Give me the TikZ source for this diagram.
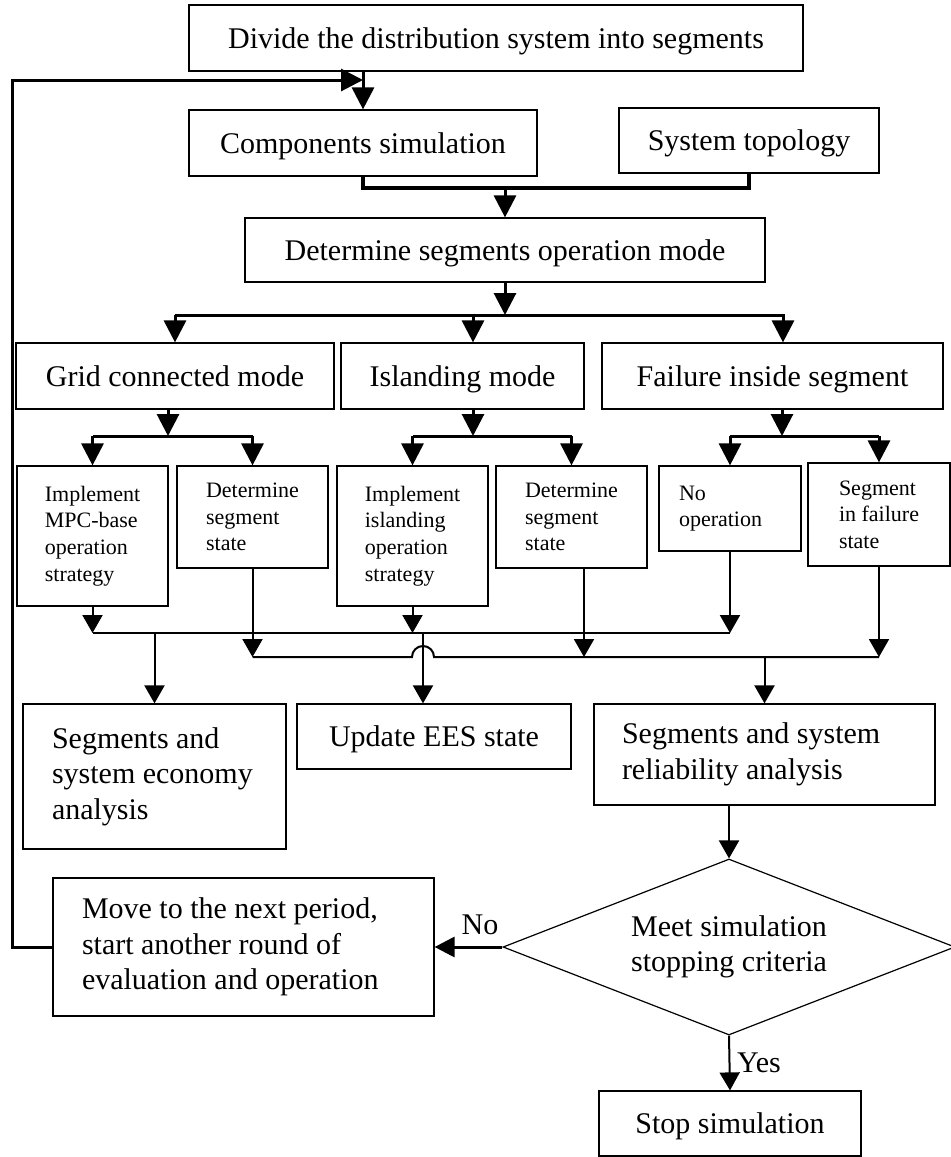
\documentclass[tikz,border=0pt]{standalone}
\usepackage{fontspec}
\setmainfont{Liberation Serif}
\usetikzlibrary{arrows.meta,shapes.geometric}

\tikzset{
	box/.style={draw, line width=0.6pt, inner sep=0pt},
	onebox/.style={box, text height=12pt, text depth=2pt},
	smallbox/.style={box, align=left, font=\fontsize{11}{13.3}\selectfont},
	boxsize/.style 2 args={minimum width=#1*0.5pt, minimum height=#2*0.5pt},
	bus/.style={line width=1.5pt},
	line/.style={line width=1pt, >={Triangle[width=10pt,length=9pt]}},
}

\begin{document}
\begin{tikzpicture}[x=0.5pt, y=-0.5pt, font=\fontsize{15}{17.75}\selectfont, >={Triangle[width=11pt,length=11pt]}]
					% levels of the busses
					
					\def\busT{315}
					\def\busS{436}
					\def\busA{633}
					\def\busB{657}
					
					\useasboundingbox (0,0) rectangle (951,1157);
					
					% boxes
					\node[onebox, boxsize={614}{66}] (divide) at (496,38) {Divide the distribution system into segments};
					\node[onebox, boxsize={348}{66}] (comp) at (363,143) {Components simulation};
					\node[onebox, boxsize={260}{65}] (topo) at (749,140.5) {System topology};
					\node[onebox, boxsize={520}{64}] (mode) at (505,250) {Determine segments operation mode};
					
					\node[onebox, boxsize={318}{66}] (grid) at (175,376) {Grid connected mode};
					\node[onebox, boxsize={243}{66}] (island) at (462.5,376) {Islanding mode};
					\node[onebox, boxsize={341}{66}] (fail) at (772.5,376) {Failure inside segment};
					
					\node[smallbox, boxsize={151}{140}] (mpc) at (92.5,536) {Implement\\MPC-base\\operation\\strategy};
					\node[smallbox, boxsize={151}{102}] (dseg1) at (252.5,517) {Determine\\segment\\state};
					\node[smallbox, boxsize={151}{140}] (impl) at (412.5,536) {Implement\\islanding\\operation\\strategy};
					\node[smallbox, boxsize={151}{102}] (dseg2) at (571.5,517) {Determine\\segment\\state};
					\node[smallbox, boxsize={142}{85}, text width=51pt] (noop) at (730,508.5) {No\\operation};
					\node[smallbox, boxsize={142}{103}] (sfail) at (879,514.5) {Segment\\in failure\\state};
					
					\node[box, boxsize={263}{145}, align=flush left, text width=102.5pt] (econ) at (154.5,776.5) {Segments and\\system economy\\analysis};
					\node[onebox, boxsize={274}{65}] (ees) at (434,736.5) {Update EES state};
					\node[box, boxsize={341}{101}, align=flush left, text width=142.5pt] (rel) at (764.5,754.5) {Segments and system\\reliability analysis};
					
					\node[box, diamond, aspect=2.57, boxsize={452}{176}, align=center] (crit) at (729,947) {Meet simulation\\stopping criteria};
					\node[box, boxsize={381}{138}, align=flush left, text width=161.5pt] (move) at (243.5,947) {Move to the next period,\\start another round of\\evaluation and operation};
					\node[onebox, boxsize={262}{65}] (stop) at (730,1123.5) {Stop simulation};
					
					% tap points
					\coordinate (fb) at (12,80);
					\coordinate (join) at (505,188);
					\coordinate (ta) at (175,\busT);
					\coordinate (tb) at (473,\busT);
					\coordinate (tc) at (783,\busT);
					\coordinate (tapgrid) at (168,\busS);
					\coordinate (tapisland) at (473,\busS);
					\coordinate (tapfail) at (782,\busS);
					\coordinate (tapdseg) at (584,\busB);
					\coordinate (hop) at (423,\busB);
					
					% upper part
					\draw[->, bus] (comp.north |- divide.south) -- (comp.north);
					\draw[->, bus] (move.west) -| (fb) -- (comp.north |- fb);
					\draw[line width=2pt] (comp.south) |- (join) -| (topo.south);
					\draw[->, bus] (join) -- (mode.north);
					\draw[->, bus] (mode.south) -- (mode.south |- ta);
					\draw[bus] (ta) -- ([xshift=1pt]tc);
					\foreach \t/\n in {ta/grid, tb/island, tc/fail}
						\draw[->, bus] (\t) -- (\t |- \n.north);
					
					\foreach \s/\a/\b in {grid/mpc/dseg1, island/impl/dseg2, fail/noop/sfail}{
						\draw[->, bus] (tap\s |- \s.south) -- (tap\s);
						\draw[bus] (\a.north |- tap\s) -- (\b.north |- tap\s);
						\draw[->, bus] (\a.north |- tap\s) -- (\a.north);
						\draw[->, bus] (\b.north |- tap\s) -- (\b.north);
					}
					
					% lower busses
					\foreach \n in {mpc, impl, noop}
						\draw[->, line] (\n.south) -- (\n.south |- 0,\busA);
					\draw[line] (mpc.south |- 0,\busA) -- (noop.south |- 0,\busA);
					\draw[->, line] (econ.north |- 0,\busA) -- (econ.north);
					\draw[->, line] (hop |- 0,\busA) -- (hop |- ees.north);
					
					\draw[->, line] (dseg1.south) -- (dseg1.south |- hop);
					\draw[->, line] (tapdseg |- dseg2.south) -- (tapdseg);
					\draw[->, line] (sfail.south) -- (sfail.south |- hop);
					\draw[line] (dseg1.south |- hop) -- ([xshift=-5.5pt]hop) arc[start angle=180, end angle=360, radius=11] -- (sfail.south |- hop);
					\draw[->, line] (rel.north |- hop) -- (rel.north);
					
					% decision
					\draw[->, line] (crit.north |- rel.south) -- (crit.north);
					\draw[->, bus, >={Triangle[width=10pt,length=10pt]}] (crit.west) -- node[above=2pt, pos=0.33] (no) {No} (move.east);
					\draw[->, line] (crit.south) -- node[right] (yes) {Yes} (stop.north);
					\end{tikzpicture}
\end{document}
